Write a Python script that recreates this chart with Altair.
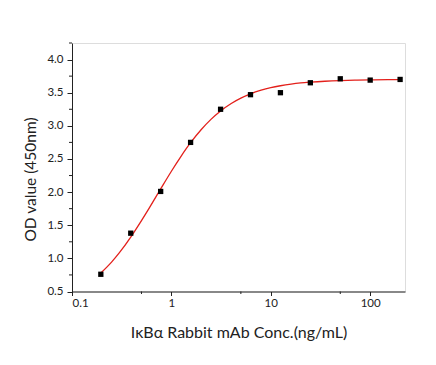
import altair as alt
import pandas as pd

# Measured data points
conc = [0.195, 0.39, 0.78, 1.56, 3.125, 6.25, 12.5, 25, 50, 100, 200]
od = [0.76, 1.38, 2.01, 2.75, 3.25, 3.47, 3.50, 3.65, 3.71, 3.69, 3.70]

# Fitted curve
curve_x = [0.195, 0.25, 0.3, 0.39, 0.5, 0.6, 0.78, 1.0, 1.25, 1.56, 2.0, 2.5,
           3.125, 4, 5, 6.25, 8, 10, 12.5, 16, 20, 25, 35, 50, 70, 100, 150, 200]
curve_y = [0.779, 0.944, 1.086, 1.321, 1.570, 1.762, 2.048, 2.315, 2.540, 2.745,
           2.944, 3.097, 3.224, 3.337, 3.418, 3.483, 3.538, 3.576, 3.605, 3.630,
           3.647, 3.659, 3.673, 3.683, 3.689, 3.693, 3.696, 3.697]

x_major_ticks = [0.1, 1, 10, 100]
x_minor_ticks = [0.5, 5, 50]
y_major_ticks = [0.5, 1.0, 1.5, 2.0, 2.5, 3.0, 3.5, 4.0]
y_minor_ticks = [0.75, 1.25, 1.75, 2.25, 2.75, 3.25, 3.75, 4.25]

pts = pd.DataFrame({"x": conc, "y": od})
crv = pd.DataFrame({"x": curve_x, "y": curve_y})
xminor = pd.DataFrame({"x": x_minor_ticks})
yminor = pd.DataFrame({"y": y_minor_ticks})

FONT = "Lato"
W, H = 333, 248.5
INK = "#222"

x_scale = alt.Scale(type="log", domain=[0.1, 224], nice=False)
y_scale = alt.Scale(domain=[0.5, 4.25], nice=False, zero=False)

x_axis = alt.Axis(
    title="IκBα Rabbit mAb Conc.(ng/mL)",
    values=x_major_ticks, tickCount=50, format="~g", labelOverlap=False,
    tickSize=4, grid=False, domainColor=INK, tickColor=INK, labelColor=INK,
    labelFont=FONT, labelFontSize=11.5, labelPadding=2,
    titleFont=FONT, titleFontSize=16, titleFontWeight="normal", titleColor=INK,
    titleBaseline="middle", titleY=40.5, titleX=W / 2,
)
y_axis = alt.Axis(
    title="OD value (450nm)",
    values=y_major_ticks, tickCount=50, format=".1f", labelOverlap=False,
    tickSize=5, grid=False, domainColor=INK, tickColor=INK, labelColor=INK,
    labelFont=FONT, labelFontSize=11.5, labelPadding=4,
    titleFont=FONT, titleFontSize=15.5, titleFontWeight="normal", titleColor=INK,
    titleBaseline="middle", titleX=-42, titleY=136, titleAngle=-90,
)

line = alt.Chart(crv).mark_line(color="#e3201b", strokeWidth=1.3, interpolate="monotone").encode(
    x=alt.X("x:Q", scale=x_scale, axis=x_axis),
    y=alt.Y("y:Q", scale=y_scale, axis=y_axis),
)
points = alt.Chart(pts).mark_point(shape="square", filled=True, color="#000", size=28, opacity=1).encode(
    x=alt.X("x:Q", scale=x_scale),
    y=alt.Y("y:Q", scale=y_scale),
)
x_minor = alt.Chart(xminor).mark_rule(color=INK, strokeWidth=1).encode(
    x=alt.X("x:Q", scale=x_scale),
    y=alt.value(H), y2=alt.value(H + 2.5),
)
y_minor = alt.Chart(yminor).mark_rule(color=INK, strokeWidth=1).encode(
    y=alt.Y("y:Q", scale=y_scale),
    x=alt.value(-3), x2=alt.value(0),
)

chart = alt.layer(line, points, x_minor, y_minor).properties(
    width=W, height=H,
    autosize=alt.AutoSizeParams(type="none"),
    padding={"left": 64, "top": 35, "right": 23, "bottom": 60},
).configure_view(stroke=None).configure(background="white")

chart.save("out.html", embed_options={"renderer": "svg", "actions": False})
